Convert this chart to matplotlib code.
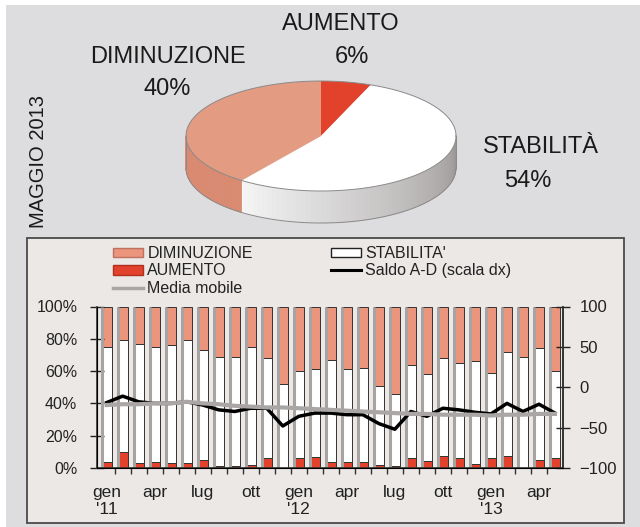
import numpy as np
import matplotlib.pyplot as plt
from matplotlib.patches import Polygon, Rectangle, Patch
from matplotlib.lines import Line2D
from matplotlib import font_manager

# font: narrow per le etichette della torta, se c'e'
nomi = {f.name for f in font_manager.fontManager.ttflist}
narrow = 'Liberation Sans Narrow' if 'Liberation Sans Narrow' in nomi else 'Liberation Sans'
plt.rcParams['font.family'] = ['Liberation Sans', 'DejaVu Sans']

# Dati torta (maggio 2013)
torta_etichette = ['AUMENTO', 'STABILITÀ', 'DIMINUZIONE']
torta_valori = [6, 54, 40]

# Dati mensili gen 2011 - mag 2013 (%)
aumento = [4, 10, 3, 4, 3, 3, 5, 1.5, 1.5, 2, 6, 0, 6, 7, 3.5, 3.5, 3.5, 2, 1.5,
           6.5, 4.5, 7.5, 6.5, 2.5, 6, 7.5, 0, 5, 6]
stabilita = [71, 69, 74, 71, 73, 76, 68, 67.5, 67.5, 73, 62, 52, 54, 54, 63.5, 57.5,
             58.5, 49, 44.5, 57.5, 53.5, 60.5, 58.5, 63.5, 53, 64.5, 69, 69, 54]
diminuzione = [25, 21, 23, 25, 24, 21, 27, 31, 31, 25, 32, 48, 40, 39, 33, 39, 38,
               49, 54, 36, 42, 32, 35, 34, 41, 28, 31, 26, 40]
# saldo aumento - diminuzione (scala dx)
saldo = [-19, -11, -18, -20, -20, -18, -22, -28, -30, -26, -26, -48, -36, -32, -32,
         -34, -34, -45, -52, -30, -36, -26, -28, -31, -33, -20, -30, -21, -32]
media_mobile = [-22, -21, -21, -20, -20, -18, -20, -21, -23, -24, -25, -25, -26, -27,
                -28, -29, -30, -31, -32, -33, -33, -34, -34, -34, -35, -34, -34, -33, -33]
etichette_x = ["gen\n'11", "apr", "lug", "ott", "gen\n'12", "apr", "lug", "ott",
               "gen\n'13", "apr"]

C_DIM = '#ea957c'
C_AUM = '#e2412b'
C_GRIGIO = '#aaa6a6'

fig = plt.figure(figsize=(6.4, 5.27), dpi=100)
fig.patch.set_facecolor('white')

# sfondo in coordinate pixel
bg = fig.add_axes([0, 0, 1, 1])
bg.set_xlim(0, 640)
bg.set_ylim(527, 0)
bg.axis('off')
bg.add_patch(Rectangle((6, 5), 634, 522, facecolor='#dddddf', edgecolor='none'))
bg.add_patch(Rectangle((27, 238), 597, 285, facecolor='#ebe8e6', edgecolor='#4a4a4a', lw=1.3))

# --- torta 3D ---
cx, cy, ra, rb, prof = 321, 136, 135, 55, 32


def punto(t, dy=0):
    r = np.radians(t)
    return cx + ra * np.cos(r), cy - rb * np.sin(r) + dy


colori_top = [C_AUM, 'white', '#e39b82']
inizio = 90
angoli = []
for v in torta_valori:
    fine = inizio - v * 3.6
    angoli.append((inizio, fine))
    inizio = fine

# lati visibili (parte frontale, -180..0)
for i, (a0, a1) in enumerate(angoli):
    lo, hi = max(a1, -180), min(a0, 0)
    if lo >= hi:
        continue
    ts = np.linspace(lo, hi, 60)
    for k in range(len(ts) - 1):
        p1, p2 = punto(ts[k]), punto(ts[k + 1])
        q1, q2 = punto(ts[k + 1], prof), punto(ts[k], prof)
        if i == 1:
            f = (ts[k] - lo) / (hi - lo)
            c0 = np.array([0.96, 0.96, 0.96])
            c1 = np.array([0.60, 0.58, 0.58])
            col = c0 + (c1 - c0) * f
        else:
            col = '#d98a70'
        bg.add_patch(Polygon([p1, p2, q1, q2], closed=True, facecolor=col,
                             edgecolor=col, lw=0.5))

for i, (a0, a1) in enumerate(angoli):
    ts = np.linspace(a0, a1, 80)
    pts = [(cx, cy)] + [punto(t) for t in ts]
    bg.add_patch(Polygon(pts, closed=True, facecolor=colori_top[i], edgecolor='none'))

tt = np.linspace(0, 360, 200)
xs, ys = zip(*[punto(t) for t in tt])
bg.plot(xs, ys, color='#8a8a8a', lw=0.7)
tb = np.linspace(-180, 0, 100)
xs, ys = zip(*[punto(t, prof) for t in tb])
bg.plot(xs, ys, color='#8a8a8a', lw=0.7)
for t in (-180, 0):
    x0, y0 = punto(t)
    bg.plot([x0, x0], [y0, y0 + prof], color='#8a8a8a', lw=0.7)

lab_kw = dict(family=narrow, fontsize=17, color='#1a1a1a', ha='center', va='center')
bg.text(341, 24, torta_etichette[0], **lab_kw)
bg.text(352, 57, f'{torta_valori[0]}%', **lab_kw)
bg.text(168, 57, torta_etichette[2], **lab_kw)
bg.text(167, 89, f'{torta_valori[2]}%', **lab_kw)
bg.text(541, 147, torta_etichette[1], **lab_kw)
bg.text(528, 181, f'{torta_valori[1]}%', **lab_kw)
bg.text(38, 162, 'MAGGIO 2013', family=narrow, fontsize=14.5, color='#1a1a1a',
        rotation=90, ha='center', va='center')

# --- barre ---
ax = fig.add_axes([96.7 / 640, 1 - 468 / 527, (563 - 96.7) / 640, (468 - 306.5) / 527])
ax.patch.set_alpha(0)
x = np.arange(len(aumento))
w = 0.62
base2 = np.array(aumento) + np.array(stabilita)
ax.bar(x, aumento, w, color=C_AUM, edgecolor='#333333', lw=0.7)
ax.bar(x, stabilita, w, bottom=aumento, color='white', edgecolor='#333333', lw=0.7)
ax.bar(x, diminuzione, w, bottom=base2, color=C_DIM, edgecolor='#333333', lw=0.7)
ax.vlines(x - w / 2, 0, 100, color='#a8a3a3', lw=2.2)

ax.set_xlim(-0.62, 28.5)
ax.set_ylim(0, 100)
ax.set_yticks(range(0, 101, 20))
ax.set_yticklabels([f'{v}%' for v in range(0, 101, 20)])
ax.set_xticks(x[::3])
ax.set_xticklabels(etichette_x)
ax.set_xticks(x[:-1] + 0.5, minor=True)
ax.tick_params(axis='x', which='major', length=0, pad=12, labelsize=12.5, colors='#222222')
ax.tick_params(axis='x', which='minor', length=4, width=1, direction='out', color='#333333')
ax.tick_params(axis='y', length=10, width=1, direction='inout', pad=9,
               labelsize=11.5, colors='#222222')
ax.spines['top'].set_visible(False)
for s in ('left', 'right', 'bottom'):
    ax.spines[s].set_color('#333333')
    ax.spines[s].set_linewidth(1.2)

ax2 = ax.twinx()
ax2.set_ylim(-100, 100)
ax2.set_yticks(range(-100, 101, 50))
ax2.plot(x, saldo, color='black', lw=2.5)
ax2.plot(x, media_mobile, color=C_GRIGIO, lw=3)
ax2.tick_params(axis='y', length=10, width=1, direction='inout', pad=7,
                labelsize=12, colors='#222222')
ax2.spines['top'].set_visible(False)
ax2.spines['right'].set_color('#333333')
ax2.spines['right'].set_linewidth(1.2)

maniglie = [Patch(facecolor=C_DIM, edgecolor='#c07060'),
            Patch(facecolor=C_AUM, edgecolor='#b03020'),
            Line2D([], [], color=C_GRIGIO, lw=2.5),
            Patch(facecolor='white', edgecolor='#222222'),
            Line2D([], [], color='black', lw=2.2)]
nomi_leg = ['DIMINUZIONE', 'AUMENTO', 'Media mobile', "STABILITA'", 'Saldo A-D (scala dx)']
fig.legend(maniglie, nomi_leg, loc='upper left', bbox_to_anchor=(113 / 640, 1 - 246 / 527),
           ncol=2, frameon=False, fontsize=11.5, handlelength=1.9, handleheight=0.55,
           handletextpad=0.25, columnspacing=4.9, labelspacing=0.15, borderpad=0,
           borderaxespad=0, labelcolor='#222222')

fig.savefig('out.png', dpi=100)
